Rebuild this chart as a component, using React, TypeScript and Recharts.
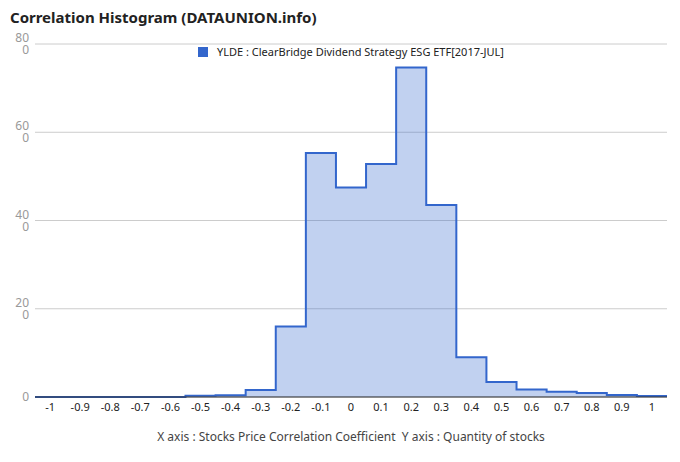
import { AreaChart, Area, XAxis, YAxis, CartesianGrid } from "recharts";

const BIN_CENTERS = [-1, -0.9, -0.8, -0.7, -0.6, -0.5, -0.4, -0.3, -0.2, -0.1, 0, 0.1, 0.2, 0.3, 0.4, 0.5, 0.6, 0.7, 0.8, 0.9, 1];
const COUNTS = [0, 0, 0, 0, 0, 0.3, 0.4, 1.6, 16, 55.3, 47.5, 52.8, 74.7, 43.5, 9, 3.4, 1.7, 1.2, 0.9, 0.45, 0.2];
const Y_TICKS = [0, 20, 40, 60, 80];
const BIN_HALF = 0.05;

const SERIES_NAME = "YLDE : ClearBridge Dividend Strategy ESG ETF[2017-JUL]";
const FONT = "'Noto Sans', 'Open Sans', sans-serif";

// stepAfter from each bin's left edge, plus a closing point at the last right edge
const data = [
  ...BIN_CENTERS.map((c, i) => ({ x: +(c - BIN_HALF).toFixed(2), v: COUNTS[i] })),
  { x: +(BIN_CENTERS[BIN_CENTERS.length - 1] + BIN_HALF).toFixed(2), v: COUNTS[COUNTS.length - 1] },
];

function YTick({ x, y, payload }: any) {
  const v = payload.value;
  if (v === 0) {
    return (
      <text x={x} y={y} dy={4} textAnchor="end" fontSize={12} fill="#999" fontFamily={FONT}>0</text>
    );
  }
  return (
    <text x={x} textAnchor="end" fontSize={12} fill="#999" fontFamily={FONT}>
      <tspan x={x} y={y - 2}>{v}</tspan>
      <tspan x={x} y={y + 10}>0</tspan>
    </text>
  );
}

export default function App() {
  return (
    <div style={{ position: "relative", width: 680, height: 462, background: "#fff", fontFamily: FONT }}>
      <style>{"body{margin:0}"}</style>
      <div style={{ position: "absolute", left: 10, top: 7, fontSize: 15, fontWeight: 700, color: "#222" }}>
        Correlation Histogram (DATAUNION.info)
      </div>
      <AreaChart width={680} height={462} data={data} margin={{ top: 44, right: 13, left: 0, bottom: 0 }}>
        <CartesianGrid vertical={false} stroke="#ccc" />
        <XAxis
          dataKey="x"
          type="number"
          domain={[-1.05, 1.05]}
          ticks={BIN_CENTERS}
          tickFormatter={(v: number) => String(+v.toFixed(1))}
          interval={0}
          tickLine={false}
          tickSize={0}
          tickMargin={6}
          height={65}
          axisLine={{ stroke: "#333" }}
          tick={{ fontSize: 11, fill: "#222", fontFamily: FONT }}
          allowDataOverflow
        />
        <YAxis
          domain={[0, 80]}
          ticks={Y_TICKS}
          width={35}
          axisLine={false}
          tickLine={false}
          tickSize={0}
          tickMargin={6}
          tick={<YTick />}
        />
        <Area
          type="stepAfter"
          dataKey="v"
          name={SERIES_NAME}
          stroke="#3366cc"
          strokeWidth={2}
          fill="#3366cc"
          fillOpacity={0.3}
          isAnimationActive={false}
        />
      </AreaChart>
      <div style={{ position: "absolute", left: 198, top: 44, display: "flex", alignItems: "center", fontSize: 11, color: "#222" }}>
        <span style={{ display: "inline-block", width: 10, height: 10, background: "#3366cc", marginRight: 9 }} />
        {SERIES_NAME}
      </div>
      <div style={{ position: "absolute", left: 0, width: 702, top: 428, textAlign: "center", fontSize: 12, color: "#444" }}>
        X axis : Stocks Price Correlation Coefficient&nbsp;&nbsp;Y axis : Quantity of stocks
      </div>
    </div>
  );
}
